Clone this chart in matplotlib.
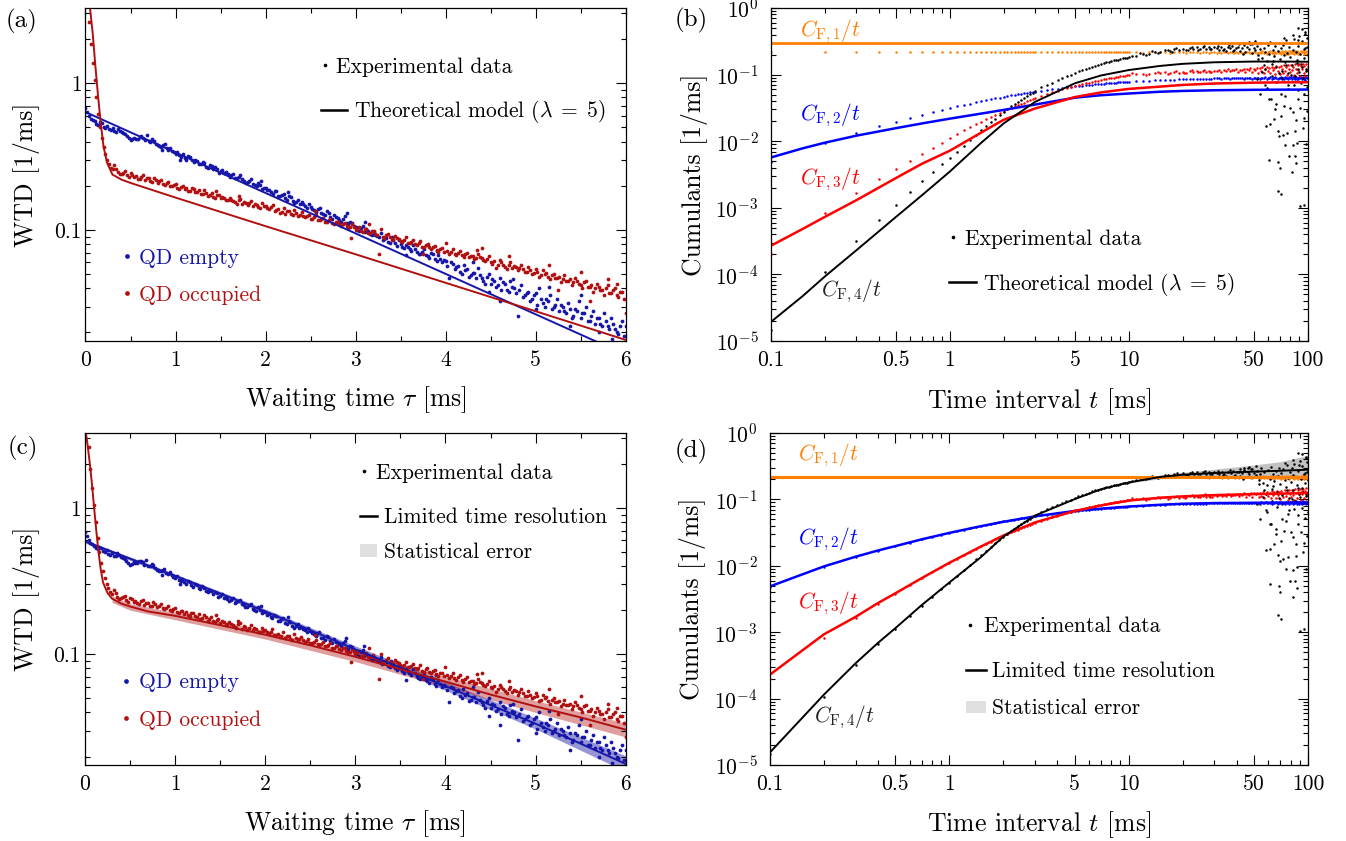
import numpy as np
import matplotlib
matplotlib.use("Agg")
import matplotlib.pyplot as plt
from matplotlib.lines import Line2D
from matplotlib.patches import Patch
from matplotlib.ticker import (FixedLocator, NullFormatter, FuncFormatter,
                               MultipleLocator, LogLocator)

plt.rcParams.update({
    "font.family": "serif",
    "font.serif": ["cmr10"],
    "mathtext.fontset": "cm",
    "axes.formatter.use_mathtext": True,
    "axes.unicode_minus": False,
})

# ------------------------------------------------------------------ data
# waiting-time distributions (same experimental data in (a) and (c))
TAU = np.round(np.arange(151) * 0.04, 2)          # 0.00, 0.04, ... 6.00
TAU_MID = np.round(np.arange(150) * 0.04 + 0.02, 2)  # 0.02, 0.06, ... 5.98
WTD_EMPTY = [
    0.680, 0.600, 0.565, 0.528, 0.540, 0.505, 0.512, 0.478, 0.470, 0.488,
    0.462, 0.448, 0.421, 0.413, 0.419, 0.432, 0.425, 0.441, 0.398, 0.405,
    0.379, 0.368, 0.384, 0.352, 0.347, 0.331, 0.322, 0.329, 0.301, 0.314,
    0.290, 0.297, 0.279, 0.285, 0.266, 0.272, 0.268, 0.246, 0.256, 0.247,
    0.231, 0.242, 0.227, 0.236, 0.216, 0.211, 0.221, 0.202, 0.210, 0.190,
    0.193, 0.188, 0.176, 0.183, 0.170, 0.176, 0.161, 0.167, 0.152, 0.160,
    0.154, 0.146, 0.150, 0.139, 0.133, 0.142, 0.129, 0.134, 0.123, 0.127,
    0.121, 0.113, 0.124, 0.109, 0.112, 0.104, 0.098, 0.107, 0.101, 0.094,
    0.097, 0.091, 0.095, 0.087, 0.083, 0.090, 0.081, 0.086, 0.077, 0.079,
    0.074, 0.079, 0.071, 0.068, 0.074, 0.066, 0.070, 0.063, 0.067, 0.060,
    0.061, 0.047, 0.059, 0.056, 0.052, 0.058, 0.054, 0.049, 0.051, 0.055,
    0.047, 0.043, 0.050, 0.046, 0.041, 0.047, 0.044, 0.039, 0.045, 0.040,
    0.026, 0.042, 0.036, 0.038, 0.034, 0.037, 0.040, 0.032, 0.034, 0.036,
    0.030, 0.034, 0.031, 0.028, 0.032, 0.025, 0.029, 0.033, 0.027, 0.030,
    0.024, 0.028, 0.025, 0.023, 0.027, 0.022, 0.025, 0.021, 0.0195, 0.024,
    0.022]
WTD_EMPTY_MID = [
    0.640, 0.572, 0.548, 0.520, 0.531, 0.498, 0.486, 0.493, 0.468, 0.474,
    0.455, 0.436, 0.409, 0.424, 0.418, 0.437, 0.410, 0.402, 0.415, 0.387,
    0.371, 0.378, 0.359, 0.364, 0.338, 0.340, 0.316, 0.311, 0.319, 0.298,
    0.301, 0.283, 0.291, 0.270, 0.276, 0.259, 0.262, 0.251, 0.243, 0.239,
    0.236, 0.225, 0.230, 0.221, 0.209, 0.217, 0.205, 0.199, 0.201, 0.193,
    0.186, 0.181, 0.185, 0.170, 0.174, 0.164, 0.169, 0.157, 0.156, 0.151,
    0.149, 0.141, 0.144, 0.137, 0.139, 0.130, 0.126, 0.131, 0.119, 0.122,
    0.117, 0.119, 0.111, 0.113, 0.106, 0.100, 0.103, 0.097, 0.099, 0.092,
    0.093, 0.089, 0.086, 0.088, 0.082, 0.085, 0.078, 0.080, 0.075, 0.077,
    0.072, 0.074, 0.069, 0.071, 0.067, 0.064, 0.068, 0.061, 0.063, 0.062,
    0.057, 0.060, 0.054, 0.057, 0.050, 0.053, 0.048, 0.051, 0.047, 0.049,
    0.045, 0.048, 0.043, 0.045, 0.042, 0.039, 0.043, 0.038, 0.041, 0.037,
    0.039, 0.035, 0.037, 0.033, 0.036, 0.031, 0.034, 0.030, 0.033, 0.029,
    0.031, 0.028, 0.030, 0.027, 0.029, 0.026, 0.028, 0.025, 0.027, 0.024,
    0.026, 0.023, 0.025, 0.022, 0.024, 0.021, 0.023, 0.020, 0.022, 0.019]
WTD_EMPTY_OUT_T = [0.85, 1.05, 1.95, 2.25, 2.9, 3.1, 3.56, 3.9, 4.3, 4.48,
                   4.6, 4.75, 5.0, 5.15, 5.38, 5.5, 5.7, 5.85]
WTD_EMPTY_OUT = [0.35, 0.30, 0.215, 0.18, 0.13, 0.113, 0.067, 0.072, 0.060,
                 0.038, 0.033, 0.046, 0.029, 0.041, 0.022, 0.036, 0.020, 0.018]
WTD_OCC = [
    4.50, 2.60, 1.37, 0.80, 0.50, 0.37, 0.300, 0.265, 0.276, 0.247,
    0.242, 0.251, 0.229, 0.238, 0.232, 0.221, 0.236, 0.224, 0.215, 0.226,
    0.210, 0.219, 0.203, 0.212, 0.198, 0.207, 0.190, 0.199, 0.193, 0.183,
    0.191, 0.180, 0.175, 0.186, 0.170, 0.179, 0.165, 0.174, 0.168, 0.159,
    0.166, 0.158, 0.151, 0.163, 0.155, 0.147, 0.158, 0.150, 0.143, 0.152,
    0.146, 0.139, 0.148, 0.136, 0.131, 0.142, 0.134, 0.128, 0.137, 0.125,
    0.132, 0.122, 0.127, 0.119, 0.126, 0.116, 0.121, 0.113, 0.119, 0.110,
    0.114, 0.107, 0.111, 0.103, 0.109, 0.100, 0.105, 0.097, 0.102, 0.095,
    0.099, 0.093, 0.101, 0.088, 0.094, 0.085, 0.091, 0.087, 0.083, 0.089,
    0.082, 0.086, 0.079, 0.084, 0.076, 0.080, 0.074, 0.078, 0.071, 0.075,
    0.082, 0.069, 0.074, 0.067, 0.072, 0.065, 0.070, 0.066, 0.063, 0.068,
    0.064, 0.061, 0.066, 0.059, 0.055, 0.062, 0.058, 0.054, 0.060, 0.057,
    0.053, 0.058, 0.052, 0.056, 0.050, 0.054, 0.048, 0.053, 0.051, 0.046,
    0.050, 0.047, 0.044, 0.049, 0.045, 0.042, 0.047, 0.043, 0.040, 0.045,
    0.041, 0.038, 0.043, 0.039, 0.036, 0.042, 0.037, 0.040, 0.035, 0.038,
    0.027]
WTD_OCC_MID = [
    3.50, 1.85, 1.05, 0.62, 0.42, 0.330, 0.283, 0.258, 0.262, 0.240,
    0.246, 0.236, 0.244, 0.228, 0.223, 0.230, 0.218, 0.225, 0.212, 0.219,
    0.214, 0.206, 0.208, 0.200, 0.203, 0.194, 0.197, 0.189, 0.185, 0.192,
    0.182, 0.187, 0.176, 0.179, 0.173, 0.168, 0.172, 0.164, 0.166, 0.161,
    0.160, 0.154, 0.161, 0.149, 0.153, 0.152, 0.146, 0.148, 0.141, 0.145,
    0.141, 0.143, 0.135, 0.138, 0.133, 0.129, 0.134, 0.126, 0.130, 0.127,
    0.125, 0.124, 0.119, 0.122, 0.117, 0.118, 0.114, 0.116, 0.111, 0.113,
    0.109, 0.110, 0.106, 0.104, 0.105, 0.102, 0.098, 0.101, 0.096, 0.098,
    0.094, 0.068, 0.090, 0.092, 0.089, 0.087, 0.088, 0.084, 0.085, 0.082,
    0.083, 0.080, 0.081, 0.077, 0.079, 0.076, 0.077, 0.073, 0.074, 0.071,
    0.072, 0.071, 0.069, 0.070, 0.067, 0.068, 0.065, 0.066, 0.064, 0.065,
    0.062, 0.063, 0.060, 0.061, 0.058, 0.060, 0.056, 0.058, 0.055, 0.056,
    0.055, 0.054, 0.052, 0.053, 0.051, 0.052, 0.049, 0.050, 0.048, 0.049,
    0.047, 0.048, 0.046, 0.045, 0.046, 0.044, 0.045, 0.042, 0.044, 0.041,
    0.042, 0.040, 0.041, 0.039, 0.040, 0.037, 0.039, 0.036, 0.038, 0.034]
WTD_OCC_OUT_T = [1.45, 1.7, 2.55, 2.95, 3.15, 3.75, 4.35, 4.4, 4.7, 5.15,
                 5.25, 5.5, 5.6, 5.8, 5.9]
WTD_OCC_OUT = [0.185, 0.17, 0.135, 0.088, 0.11, 0.068, 0.073, 0.075, 0.066,
               0.058, 0.039, 0.052, 0.033, 0.046, 0.043]

# (a) theoretical model (lambda = 5)
TH_A_EMPTY_T = [0.0, 3.0, 6.0]
TH_A_EMPTY = [0.635, 0.0946, 0.0141]
TH_A_OCC_T = [0.0, 0.02, 0.05, 0.08, 0.11, 0.14, 0.17, 0.2, 0.24, 0.3, 0.4,
              0.5, 1.0, 2.0, 3.0, 4.0, 5.0, 6.0]
TH_A_OCC = [7.0, 5.0, 3.25, 2.19, 1.3, 0.81, 0.53, 0.37, 0.286, 0.238, 0.22,
            0.209, 0.166, 0.106, 0.0682, 0.0436, 0.0279, 0.0178]

# (c) limited time resolution + statistical error bands
TH_C_EMPTY_T = [0, 0.5, 1, 1.5, 2, 2.5, 3, 3.5, 4, 4.5, 5, 5.5, 6]
TH_C_EMPTY = [0.59, 0.45, 0.343, 0.26, 0.196, 0.146, 0.108, 0.081, 0.0605,
              0.045, 0.0335, 0.0245, 0.0178]
TH_C_OCC_T = [0, 0.025, 0.05, 0.075, 0.1, 0.125, 0.15, 0.175, 0.2, 0.25, 0.3,
              0.4, 0.5, 0.7, 1, 1.5, 2, 2.5, 3, 3.5, 4, 4.5, 5, 5.5, 6]
TH_C_OCC = [3.6, 2.8, 2.1, 1.5, 1.02, 0.7, 0.5, 0.38, 0.31, 0.262, 0.24,
            0.222, 0.212, 0.196, 0.183, 0.158, 0.136, 0.115, 0.096, 0.079,
            0.065, 0.053, 0.044, 0.037, 0.0305]
BAND_C_EMPTY_T = [0, 1, 2, 3, 4, 5, 6]
BAND_C_EMPTY_LO = [0.575, 0.333, 0.189, 0.103, 0.0567, 0.0308, 0.0158]
BAND_C_EMPTY_HI = [0.605, 0.354, 0.204, 0.114, 0.0648, 0.0367, 0.0202]
BAND_C_OCC_T = [0.3, 0.5, 1, 2, 3, 4, 5, 6]
BAND_C_OCC_LO = [0.226, 0.2, 0.172, 0.127, 0.089, 0.0597, 0.0400, 0.0272]
BAND_C_OCC_HI = [0.25, 0.222, 0.193, 0.145, 0.103, 0.0705, 0.0482, 0.0338]

# cumulants (same experimental data in (b) and (d))
T_CUM = np.concatenate([np.arange(1, 11) * 0.1, np.arange(6, 16) * 0.2,
                        np.arange(7, 21) * 0.5, np.arange(11, 101) * 1.0])
T_CUM_MID = np.concatenate([np.arange(11, 30, 2) * 0.1,
                            np.arange(13, 40, 2) * 0.25])
C1_DATA = [
    0.215, 0.215, 0.215, 0.215, 0.215, 0.215, 0.215, 0.215, 0.215, 0.215,
    0.215, 0.215, 0.215, 0.215, 0.215, 0.215, 0.215, 0.215, 0.215, 0.215,
    0.215, 0.215, 0.215, 0.215, 0.215, 0.215, 0.215, 0.215, 0.215, 0.215,
    0.215, 0.215, 0.215, 0.215,
    0.215, 0.214, 0.216, 0.215, 0.215, 0.216, 0.214, 0.215, 0.216, 0.215,
    0.214, 0.216, 0.215, 0.217, 0.214, 0.215, 0.216, 0.213, 0.216, 0.215,
    0.214, 0.217, 0.213, 0.216, 0.218, 0.212, 0.215, 0.219, 0.211, 0.216,
    0.213, 0.220, 0.214, 0.210, 0.218, 0.216, 0.221, 0.212, 0.209, 0.217,
    0.222, 0.214, 0.208, 0.219, 0.213, 0.223, 0.211, 0.216, 0.207, 0.221,
    0.215, 0.224, 0.209, 0.218, 0.206, 0.222, 0.213, 0.226, 0.208, 0.217,
    0.205, 0.224, 0.212, 0.219, 0.227, 0.207, 0.216, 0.204, 0.223, 0.214,
    0.228, 0.209, 0.218, 0.203, 0.225, 0.213, 0.229, 0.206, 0.220, 0.211,
    0.202, 0.226, 0.215, 0.230, 0.205, 0.219, 0.210, 0.227, 0.204, 0.221]
C1_MID = [
    0.215, 0.215, 0.215, 0.215, 0.215, 0.215, 0.215, 0.215, 0.215, 0.215,
    0.215, 0.215, 0.215, 0.215, 0.215, 0.215, 0.215, 0.215, 0.215, 0.215,
    0.215, 0.215, 0.215, 0.215]
C2_DATA = [
    0.0048, 0.0095, 0.0134, 0.0168, 0.0197, 0.0224, 0.0249, 0.0272, 0.0294, 0.0314,
    0.0350, 0.0385, 0.0415, 0.0441, 0.0465, 0.0487, 0.0507, 0.0525, 0.0541, 0.0556,
    0.0590, 0.0618, 0.0642, 0.0663, 0.0681, 0.0697, 0.0712, 0.0725, 0.0737, 0.0748,
    0.0758, 0.0767, 0.0775, 0.0783,
    0.0793, 0.0806, 0.0812, 0.0823, 0.0827, 0.0835, 0.0838, 0.0844, 0.0846, 0.0851,
    0.0853, 0.0858, 0.0857, 0.0863, 0.0862, 0.0867, 0.0866, 0.0871, 0.0869, 0.0874,
    0.0876, 0.0879, 0.0873, 0.0882, 0.0877, 0.0885, 0.0871, 0.0884, 0.0880, 0.0888,
    0.0875, 0.0890, 0.0879, 0.0869, 0.0893, 0.0882, 0.0876, 0.0896, 0.0870, 0.0887,
    0.0898, 0.0874, 0.0891, 0.0866, 0.0901, 0.0883, 0.0878, 0.0905, 0.0868, 0.0894,
    0.0886, 0.0909, 0.0862, 0.0897, 0.0875, 0.0912, 0.0880, 0.0858, 0.0903, 0.0889,
    0.0916, 0.0867, 0.0893, 0.0854, 0.0921, 0.0884, 0.0899, 0.0861, 0.0926, 0.0877,
    0.0907, 0.0850, 0.0918, 0.0888, 0.0872, 0.0931, 0.0859, 0.0902, 0.0845, 0.0924,
    0.0881, 0.0910, 0.0852, 0.0936, 0.0869, 0.0897, 0.0840, 0.0928, 0.0875, 0.0915]
C2_MID = [
    0.0333, 0.0368, 0.0400, 0.0428, 0.0453, 0.0476, 0.0497, 0.0516, 0.0533, 0.0549,
    0.0575, 0.0604, 0.0630, 0.0653, 0.0672, 0.0689, 0.0705, 0.0719, 0.0731, 0.0743,
    0.0753, 0.0762, 0.0771, 0.0779]
C3_DATA = [
    0.00020, 0.00083, 0.00165, 0.0027, 0.0038, 0.0051, 0.0065, 0.0080, 0.0095, 0.0111,
    0.0145, 0.0180, 0.0215, 0.0250, 0.0285, 0.0320, 0.0350, 0.0380, 0.0410, 0.0440,
    0.0510, 0.0570, 0.0625, 0.0675, 0.0720, 0.0760, 0.0795, 0.0830, 0.0860, 0.0888,
    0.0914, 0.0938, 0.0960, 0.0980,
    0.1005, 0.1038, 0.1012, 0.1065, 0.1040, 0.1078, 0.1052, 0.1093, 0.1061, 0.1102,
    0.1075, 0.1118, 0.1083, 0.1125, 0.1096, 0.1131, 0.1102, 0.1142, 0.1098, 0.1150,
    0.1128, 0.1165, 0.1109, 0.1182, 0.1141, 0.1197, 0.1120, 0.1174, 0.1153, 0.1206,
    0.1112, 0.1189, 0.1160, 0.1228, 0.1098, 0.1215, 0.1171, 0.1243, 0.1087, 0.1232,
    0.1190, 0.1265, 0.1075, 0.1248, 0.1142, 0.1291, 0.1060, 0.1224, 0.1303, 0.1118,
    0.1257, 0.1045, 0.1320, 0.1176, 0.1274, 0.1032, 0.1338, 0.1150, 0.1286, 0.1011,
    0.1352, 0.1198, 0.1069, 0.1371, 0.1130, 0.1310, 0.0992, 0.1385, 0.1205, 0.1083,
    0.1402, 0.1160, 0.1297, 0.0978, 0.1418, 0.1234, 0.1051, 0.1376, 0.1189, 0.1430,
    0.0965, 0.1325, 0.1212, 0.1447, 0.1040, 0.1361, 0.0950, 0.1462, 0.1178, 0.1290]
C3_MID = [
    0.0128, 0.0162, 0.0197, 0.0232, 0.0267, 0.0302, 0.0335, 0.0365, 0.0395, 0.0425,
    0.0478, 0.0541, 0.0598, 0.0651, 0.0698, 0.0741, 0.0778, 0.0813, 0.0846, 0.0875,
    0.0901, 0.0926, 0.0949, 0.0970]
C3_EXTRA_T = [10.5, 12.5, 14.5, 16.5, 18.5, 20.5, 22.5, 24.5, 26.5, 28.5]
C3_EXTRA_V = [0.104, 0.099, 0.108, 0.103, 0.112, 0.105, 0.116, 0.108, 0.119,
              0.110]
C4_DATA = [
    1.45e-5, 1.07e-4, 3.2e-4, 6.6e-4, 1.12e-3, 1.75e-3, 2.5e-3, 3.4e-3, 4.5e-3, 5.6e-3,
    0.0086, 0.0125, 0.0168, 0.0218, 0.0275, 0.0333, 0.0392, 0.0450, 0.0508, 0.0565,
    0.0705, 0.0818, 0.0948, 0.1042, 0.1168, 0.1249, 0.1362, 0.1428, 0.1535, 0.1578,
    0.1672, 0.1701, 0.1795, 0.1832,
    0.193, 0.206, 0.207, 0.221, 0.216, 0.232, 0.224, 0.240, 0.231, 0.246,
    0.236, 0.251, 0.239, 0.256, 0.241, 0.258, 0.243, 0.261, 0.244, 0.262,
    0.252, 0.238, 0.263, 0.245, 0.229, 0.258, 0.247, 0.271, 0.236, 0.255,
    0.262, 0.229, 0.248, 0.277, 0.221, 0.256, 0.240, 0.285, 0.214, 0.251,
    0.232, 0.268, 0.195, 0.243, 0.298, 0.178, 0.255, 0.221, 0.162, 0.274,
    0.205, 0.312, 0.143, 0.238, 0.189, 0.265, 0.128, 0.226, 0.301, 0.171,
    0.248, 0.115, 0.283, 0.198, 0.152, 0.327, 0.212, 0.104, 0.259, 0.183,
    0.296, 0.137, 0.231, 0.345, 0.095, 0.218, 0.163, 0.272, 0.121, 0.382,
    0.204, 0.146, 0.318, 0.088, 0.241, 0.176, 0.413, 0.112, 0.263, 0.195]
C4_MID = [
    0.0069, 0.0104, 0.0146, 0.0192, 0.0246, 0.0304, 0.0362, 0.0421, 0.0479, 0.0537,
    0.0652, 0.0758, 0.0895, 0.0981, 0.1124, 0.1198, 0.1322, 0.1376, 0.1501, 0.1529,
    0.1648, 0.1662, 0.1781, 0.1776]
C4_EXTRA_T = [54, 58, 59.4, 61, 58.5, 61.5, 65, 66, 68, 69.5, 71, 73, 75, 77,
              79, 80, 83, 85, 86, 61, 68.5, 70, 68, 71, 82, 86.5, 87, 88, 75,
              71.5, 77.5, 84, 88.5, 62.5, 66.5, 73.5, 82.5, 85.5, 90.6, 95,
              88, 83, 93, 97, 51, 47, 99, 92, 96, 99, 94, 97.5, 52, 56, 63,
              67, 72, 78, 91, 95.5, 99.5, 90, 93.5, 64, 76, 81, 87.5, 98, 58,
              69, 44, 49, 53, 57, 74, 89, 96.5,
              10.5, 11.5, 12.5, 13.5, 14.5, 16.5, 17.5, 18.5, 21.5, 22.5,
              24.5, 26.5, 28.5, 31.5, 33.5, 36.5, 38.5, 41.5, 43.5, 46.5]
C4_EXTRA_V = [0.051, 0.070, 0.064, 0.043, 0.017, 0.018, 0.0214, 0.030, 0.0143,
              0.012, 0.024, 0.0125, 0.0089, 0.0134, 0.006, 0.032, 0.0087,
              0.006, 0.021, 0.0053, 0.0049, 0.004, 0.0018, 0.0016, 0.0034,
              0.0047, 0.0095, 0.043, 0.047, 0.051, 0.061, 0.071, 0.058, 0.043,
              0.036, 0.034, 0.027, 0.014, 0.00105, 0.0011, 0.50, 0.39, 0.48,
              0.44, 0.32, 0.31, 0.36, 0.075, 0.052, 0.028, 0.016, 0.009,
              0.085, 0.11, 0.095, 0.078, 0.088, 0.069, 0.032, 0.022, 0.065,
              0.11, 0.13, 0.16, 0.14, 0.10, 0.15, 0.12, 0.12, 0.105, 0.30,
              0.29, 0.17, 0.14, 0.35, 0.33, 0.25,
              0.190, 0.210, 0.200, 0.225, 0.210, 0.235, 0.220, 0.250, 0.232,
              0.262, 0.238, 0.268, 0.240, 0.272, 0.231, 0.279, 0.226, 0.290,
              0.205, 0.300]

# (b) theoretical model (lambda = 5)
TH_B_T = [0.1, 0.15, 0.2, 0.3, 0.5, 0.7, 1, 1.5, 2, 3, 5, 7, 10, 15, 20, 30,
          50, 70, 100]
TH_B_C1_T = [0.1, 100]
TH_B_C1 = [0.296, 0.296]
TH_B_C2 = [0.0057, 0.0078, 0.0095, 0.0121, 0.0157, 0.0185, 0.0218, 0.026,
           0.0295, 0.0355, 0.045, 0.049, 0.052, 0.0553, 0.0568, 0.0582,
           0.0591, 0.0594, 0.0596]
TH_B_C3 = [0.00027, 0.00048, 0.00073, 0.0013, 0.0028, 0.0046, 0.0072, 0.0135,
           0.021, 0.031, 0.046, 0.054, 0.061, 0.066, 0.070, 0.0735, 0.0757,
           0.0764, 0.0768]
TH_B_C4 = [1.94e-5, 4.7e-5, 9.3e-5, 2.3e-4, 7.3e-4, 1.55e-3, 3.5e-3, 9.5e-3,
           0.0185, 0.039, 0.074, 0.097, 0.117, 0.135, 0.145, 0.153, 0.157,
           0.157, 0.156]

# (d) limited time resolution
TH_D_T = [0.1, 0.2, 0.3, 0.4, 0.5, 0.7, 1, 1.5, 2, 3, 5, 7, 10, 15, 20, 30,
          50, 70, 100]
TH_D_C1_T = [0.1, 100]
TH_D_C1 = [0.219, 0.219]
TH_D_C2 = [0.0049, 0.0098, 0.0137, 0.017, 0.0198, 0.025, 0.0313, 0.0395,
           0.046, 0.0555, 0.067, 0.0725, 0.078, 0.083, 0.086, 0.088, 0.089,
           0.0893, 0.0895]
TH_D_C3 = [0.00023, 0.00093, 0.0017, 0.00275, 0.00385, 0.0065, 0.0111,
           0.0195, 0.0285, 0.045, 0.067, 0.081, 0.096, 0.106, 0.111, 0.116,
           0.12, 0.122, 0.125]
TH_D_C4 = [1.55e-5, 1.15e-4, 3.4e-4, 6.9e-4, 1.15e-3, 2.55e-3, 5.6e-3, 0.0135,
           0.0275, 0.057, 0.101, 0.142, 0.18, 0.218, 0.235, 0.25, 0.262,
           0.27, 0.28]
BAND_D_T = [10, 15, 20, 30, 50, 70, 100]
BAND_D_LO = [0.176, 0.205, 0.215, 0.222, 0.222, 0.218, 0.21]
BAND_D_HI = [0.184, 0.232, 0.255, 0.285, 0.33, 0.37, 0.46]

# ------------------------------------------------------------------ style
C_EMPTY = "#1616a8"
C_OCC = "#b01010"
ORANGE = "#ff8000"
BLUE = "#0000ff"
RED = "#ff0000"
FS_TICK = 15.5
FS_LAB = 18.5
FS_LEG = 15.5

fig = plt.figure(figsize=(13.46, 8.41), dpi=100)
fig.patch.set_facecolor("white")
ax_a = fig.add_axes([0.06352, 0.59453, 0.40134, 0.39596])
ax_b = fig.add_axes([0.57281, 0.59453, 0.39859, 0.39596])
ax_c = fig.add_axes([0.06315, 0.09037, 0.40171, 0.39477])
ax_d = fig.add_axes([0.57207, 0.09037, 0.39970, 0.39477])


def style(ax, ypad, xpad=6.5):
    ax.tick_params(which="both", direction="in", top=True, right=True,
                   width=0.8, labelsize=FS_TICK)
    ax.tick_params(which="major", length=7)
    ax.tick_params(which="minor", length=3.6)
    ax.tick_params(axis="x", which="both", pad=xpad)
    ax.tick_params(axis="y", which="both", pad=ypad)
    for s in ax.spines.values():
        s.set_linewidth(0.9)


def entry(ax, handle, label, x, y, hl, htp, color="k", hh=0.7):
    leg = ax.legend([handle], [label], loc="center left",
                    bbox_to_anchor=(x, y), bbox_transform=ax.transAxes,
                    frameon=False, borderpad=0, borderaxespad=0,
                    handlelength=hl, handletextpad=htp, handleheight=hh,
                    fontsize=FS_LEG, labelcolor=color)
    ax.legend_ = None
    ax.add_artist(leg)


def wtd_axes(ax, xlab_y, ylab_x):
    ax.set_yscale("log")
    ax.set_xlim(0, 6)
    ax.set_ylim(0.0175, 3.25)
    ax.xaxis.set_major_locator(MultipleLocator(1))
    ax.xaxis.set_minor_locator(MultipleLocator(0.5))
    ax.xaxis.set_major_formatter(FuncFormatter(lambda v, p: f"{v:g}"))
    ax.yaxis.set_major_locator(LogLocator(base=10))
    ax.yaxis.set_minor_locator(LogLocator(base=10, subs=np.arange(2, 10)))
    ax.yaxis.set_major_formatter(FuncFormatter(lambda v, p: f"{v:g}"))
    ax.yaxis.set_minor_formatter(NullFormatter())
    style(ax, ypad=3)
    ax.set_xlabel(r"Waiting time $\tau$ [ms]", fontsize=FS_LAB)
    ax.set_ylabel("WTD [1/ms]", fontsize=FS_LAB)
    ax.xaxis.set_label_coords(0.5, xlab_y)
    ax.xaxis.label.set_va("center")
    ax.yaxis.set_label_coords(ylab_x, 0.5)
    ax.yaxis.label.set_va("center")


def cum_axes(ax, xlab_y, ylab_x):
    ax.set_xscale("log")
    ax.set_yscale("log")
    ax.set_xlim(0.1, 100)
    ax.set_ylim(1e-5, 1)
    ax.xaxis.set_major_locator(FixedLocator([0.1, 0.5, 1, 5, 10, 50, 100]))
    ax.xaxis.set_minor_locator(FixedLocator(
        [0.2, 0.3, 0.4, 0.6, 0.7, 0.8, 0.9, 2, 3, 4, 6, 7, 8, 9,
         20, 30, 40, 60, 70, 80, 90]))
    ax.xaxis.set_major_formatter(FuncFormatter(lambda v, p: f"{v:g}"))
    ax.xaxis.set_minor_formatter(NullFormatter())
    ax.yaxis.set_major_locator(LogLocator(base=10, numticks=10))
    ax.yaxis.set_minor_locator(LogLocator(base=10, subs=np.arange(2, 10),
                                          numticks=10))
    ax.yaxis.set_minor_formatter(NullFormatter())
    style(ax, ypad=9)
    ax.set_xlabel(r"Time interval $t$ [ms]", fontsize=FS_LAB)
    ax.set_ylabel("Cumulants [1/ms]", fontsize=FS_LAB)
    ax.xaxis.set_label_coords(0.5, xlab_y)
    ax.xaxis.label.set_va("center")
    ax.yaxis.set_label_coords(ylab_x, 0.5)
    ax.yaxis.label.set_va("center")


dot_k = Line2D([], [], ls="none", marker="o", ms=2.6, color="k", mew=0)
line_k = Line2D([], [], color="k", lw=1.8)
dot_e = Line2D([], [], ls="none", marker="o", ms=3.4, color=C_EMPTY, mew=0)
dot_o = Line2D([], [], ls="none", marker="o", ms=3.4, color=C_OCC, mew=0)
patch_g = Patch(facecolor="#e0e0e0", edgecolor="none")
LAMBDA_LABEL = r"Theoretical model ($\lambda\;=\;5$)"
MS_WTD = 2.7


def wtd_dots(ax):
    for t, v, c in [(TAU, WTD_EMPTY, C_EMPTY), (TAU_MID, WTD_EMPTY_MID, C_EMPTY),
                    (WTD_EMPTY_OUT_T, WTD_EMPTY_OUT, C_EMPTY),
                    (TAU, WTD_OCC, C_OCC), (TAU_MID, WTD_OCC_MID, C_OCC),
                    (WTD_OCC_OUT_T, WTD_OCC_OUT, C_OCC)]:
        ax.plot(t, v, ls="none", marker="o", ms=MS_WTD, mew=0, color=c)


# ------------------------------------------------------------------ (a)
ax = ax_a
wtd_dots(ax)
ax.plot(TH_A_EMPTY_T, TH_A_EMPTY, color=C_EMPTY, lw=1.4)
ax.plot(TH_A_OCC_T, TH_A_OCC, color=C_OCC, lw=1.4)
wtd_axes(ax, -0.175, -0.110)
entry(ax, dot_k, "Experimental data", 0.4334, 0.823, 0.5, 0.26)
entry(ax, line_k, LAMBDA_LABEL, 0.436, 0.688, 1.21, 0.33)
entry(ax, dot_e, "QD empty", 0.0668, 0.249, 0.5, 0.31, color=C_EMPTY)
entry(ax, dot_o, "QD occupied", 0.0668, 0.138, 0.5, 0.31, color=C_OCC)

# ------------------------------------------------------------------ (c)
ax = ax_c
ax.fill_between(BAND_C_EMPTY_T, BAND_C_EMPTY_LO, BAND_C_EMPTY_HI,
                color=C_EMPTY, alpha=0.45, lw=0)
ax.fill_between(BAND_C_OCC_T, BAND_C_OCC_LO, BAND_C_OCC_HI,
                color=C_OCC, alpha=0.4, lw=0)
wtd_dots(ax)
ax.plot(TH_C_EMPTY_T, TH_C_EMPTY, color=C_EMPTY, lw=1.4)
ax.plot(TH_C_OCC_T, TH_C_OCC, color=C_OCC, lw=1.4)
wtd_axes(ax, -0.178, -0.109)
entry(ax, dot_k, "Experimental data", 0.506, 0.880, 0.5, 0.31)
entry(ax, line_k, "Limited time resolution", 0.5086, 0.746, 0.79, 0.31)
entry(ax, patch_g, "Statistical error", 0.5086, 0.640, 0.79, 0.31, hh=0.5)
entry(ax, dot_e, "QD empty", 0.0658, 0.248, 0.5, 0.355, color=C_EMPTY)
entry(ax, dot_o, "QD occupied", 0.0658, 0.136, 0.5, 0.355, color=C_OCC)


# ------------------------------------------------------------------ cumulant dots
def cum_dots(ax):
    for vals, mids, col in [(C2_DATA, C2_MID, BLUE), (C3_DATA, C3_MID, RED),
                            (C1_DATA, C1_MID, ORANGE), (C4_DATA, C4_MID, "k")]:
        ax.plot(T_CUM, vals, ls="none", marker="o", ms=1.8, mew=0, color=col)
        ax.plot(T_CUM_MID, mids, ls="none", marker="o", ms=1.8, mew=0,
                color=col)
    ax.plot(C3_EXTRA_T, C3_EXTRA_V, ls="none", marker="o", ms=1.8, mew=0,
            color=RED)
    ax.plot(C4_EXTRA_T, C4_EXTRA_V, ls="none", marker="o", ms=1.8, mew=0,
            color="k")


def cum_labels(ax, pos):
    labs = [r"$C_{\mathrm{F},1}/t$", r"$C_{\mathrm{F},2}/t$",
            r"$C_{\mathrm{F},3}/t$", r"$C_{\mathrm{F},4}/t$"]
    cols = [ORANGE, BLUE, RED, "#222222"]
    for lab, col, (x, y) in zip(labs, cols, pos):
        ax.text(x, y, lab, transform=ax.transAxes, color=col,
                fontsize=FS_LEG, ha="left", va="center")


# ------------------------------------------------------------------ (b)
ax = ax_b
cum_dots(ax)
ax.plot(TH_B_C1_T, TH_B_C1, color=ORANGE, lw=2.0)
ax.plot(TH_B_T, TH_B_C2, color=BLUE, lw=1.8)
ax.plot(TH_B_T, TH_B_C3, color=RED, lw=1.8)
ax.plot(TH_B_T, TH_B_C4, color="k", lw=1.4)
cum_axes(ax, -0.181, -0.1426)
cum_labels(ax, [(0.054, 0.93), (0.054, 0.678), (0.054, 0.486), (0.093, 0.148)])
entry(ax, dot_k, "Experimental data", 0.3292, 0.307, 0.5, 0.31)
entry(ax, line_k, LAMBDA_LABEL, 0.3318, 0.170, 1.25, 0.33)

# ------------------------------------------------------------------ (d)
ax = ax_d
ax.fill_between(BAND_D_T, BAND_D_LO, BAND_D_HI, color="#b8b8b8", alpha=0.85,
                lw=0)
cum_dots(ax)
ax.plot(TH_D_C1_T, TH_D_C1, color=ORANGE, lw=2.2)
ax.plot(TH_D_T, TH_D_C2, color=BLUE, lw=1.8)
ax.plot(TH_D_T, TH_D_C3, color=RED, lw=1.8)
ax.plot(TH_D_T, TH_D_C4, color="k", lw=1.4)
cum_axes(ax, -0.179, -0.144)
cum_labels(ax, [(0.052, 0.934), (0.052, 0.68), (0.052, 0.488), (0.082, 0.145)])
entry(ax, dot_k, "Experimental data", 0.3625, 0.417, 0.5, 0.36)
entry(ax, line_k, "Limited time resolution", 0.3649, 0.281, 0.91, 0.30)
entry(ax, patch_g, "Statistical error", 0.3649, 0.170, 0.91, 0.30, hh=0.5)

# ------------------------------------------------------------------ panel letters
for lab, x, y in [("(a)", 0.0045, 0.974), ("(b)", 0.5015, 0.976),
                  ("(c)", 0.0058, 0.4667), ("(d)", 0.5015, 0.4627)]:
    fig.text(x, y, lab, fontsize=18, ha="left", va="center")

fig.savefig("out.png", dpi=100)
